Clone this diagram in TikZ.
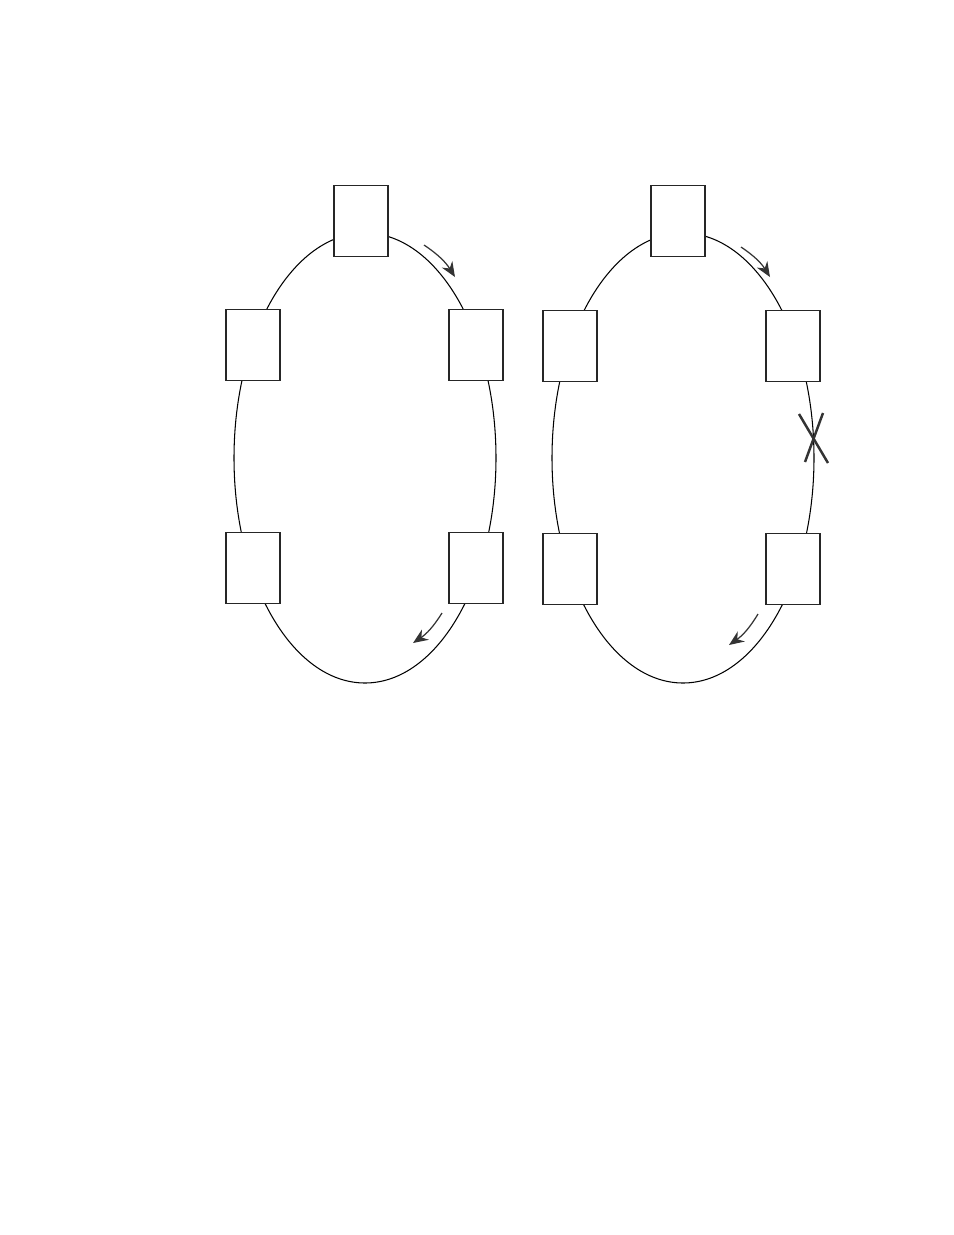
\documentclass[tikz,border=0pt]{standalone}
\usepackage{tikz}
\usetikzlibrary{arrows.meta}

\begin{document}
\begin{tikzpicture}[x=0.02cm, y=-0.02cm,
    nodo/.style={draw=black!85, fill=white, line width=0.7pt, minimum width=1.08cm, minimum height=1.42cm, inner sep=0pt},
    flecha/.style={-{Stealth[length=8.5pt, width=7pt]}, line width=0.7pt, black!80}]
  \useasboundingbox (0,0) rectangle (954,1235);

  % Anillos
  \draw[line width=0.6pt] (365,458) ellipse [x radius=131, y radius=225];
  \draw[line width=0.6pt] (683,458) ellipse [x radius=131, y radius=225];

  % Nodos (anillo izquierdo)
  \node[nodo] (a1) at (361,221) {};
  \node[nodo] (a2) at (253,345) {};
  \node[nodo] (a3) at (476,345) {};
  \node[nodo] (a4) at (253,568) {};
  \node[nodo] (a5) at (476,568) {};

  % Nodos (anillo derecho)
  \node[nodo] (b1) at (678,221) {};
  \node[nodo] (b2) at (570,346) {};
  \node[nodo] (b3) at (793,346) {};
  \node[nodo] (b4) at (570,569) {};
  \node[nodo] (b5) at (793,569) {};

  % Sentido de giro
  \coordinate (p1) at (424,245);
  \coordinate (p2) at (455,277);
  \coordinate (p3) at (442,613);
  \coordinate (p4) at (413,643);
  \coordinate (q1) at (741,247);
  \coordinate (q2) at (770,277);
  \coordinate (q3) at (758,614);
  \coordinate (q4) at (729,645);
  \draw[flecha] (p1) to[bend left=12] (p2);
  \draw[flecha] (p3) to[bend left=12] (p4);
  \draw[flecha] (q1) to[bend left=12] (q2);
  \draw[flecha] (q3) to[bend left=12] (q4);

  % Corte
  \coordinate (x1) at (799,414);
  \coordinate (x2) at (828,463);
  \coordinate (x3) at (823,413);
  \coordinate (x4) at (805,462);
  \draw[line width=1.4pt, black!80] (x1) -- (x2);
  \draw[line width=1.4pt, black!80] (x3) -- (x4);
\end{tikzpicture}
\end{document}
